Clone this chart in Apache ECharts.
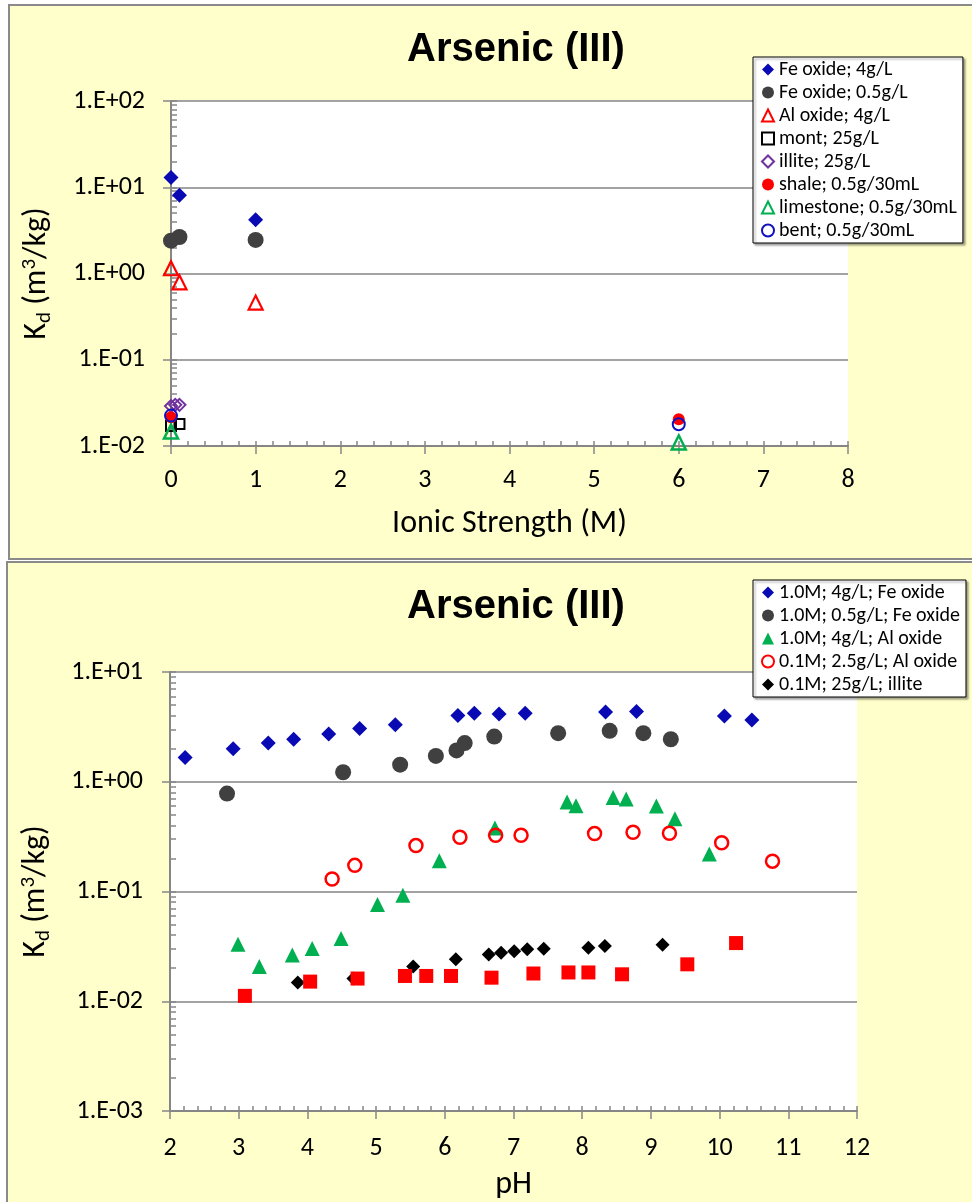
<!DOCTYPE html>
<html>
<head>
<meta charset="utf-8">
<script src="https://cdn.jsdelivr.net/npm/echarts@6/dist/echarts.min.js"></script>
<style>
  html, body { margin: 0; padding: 0; background: #fff; }
  #chart { width: 972px; height: 1202px; }
</style>
</head>
<body>
<div id="chart"></div>
<script>
// ---------- Upper panel: Kd of As(III) vs ionic strength ----------
const isFeOx4X = [0, 0.1, 1];
const isFeOx4Y = [13.0, 8.1, 4.2];
const isFeOx05X = [0, 0.1, 1];
const isFeOx05Y = [2.4, 2.65, 2.45];
const isAlOx4X = [0, 0.1, 1];
const isAlOx4Y = [1.15, 0.79, 0.46];
const isMont25X = [0, 0.1];
const isMont25Y = [0.017, 0.018];
const isIllite25X = [0, 0.05, 0.1];
const isIllite25Y = [0.029, 0.030, 0.030];
const isShaleX = [0, 6];
const isShaleY = [0.0215, 0.0204];
const isLimestoneX = [0, 6];
const isLimestoneY = [0.0147, 0.011];
const isBentX = [0, 6];
const isBentY = [0.0225, 0.0179];

const topXTicks = [0, 1, 2, 3, 4, 5, 6, 7, 8];
const topYTickValues = [0.01, 0.1, 1, 10, 100];
const topYTickLabels = ['1.E-02', '1.E-01', '1.E+00', '1.E+01', '1.E+02'];

// ---------- Lower panel: Kd of As(III) vs pH ----------
const phFeOx4X = [2.22, 2.92, 3.43, 3.80, 4.31, 4.76, 5.28, 6.19, 6.43, 6.79, 7.17, 8.34, 8.79, 10.07, 10.47];
const phFeOx4Y = [1.66, 2.0, 2.25, 2.44, 2.73, 3.05, 3.3, 4.01, 4.21, 4.15, 4.21, 4.31, 4.36, 3.98, 3.66];
const phFeOx05X = [2.83, 4.52, 5.35, 5.87, 6.17, 6.29, 6.72, 7.65, 8.40, 8.89, 9.29];
const phFeOx05Y = [0.78, 1.22, 1.43, 1.72, 1.93, 2.25, 2.58, 2.77, 2.91, 2.77, 2.44];
const phAlOx4X = [2.99, 3.30, 3.78, 4.07, 4.49, 5.02, 5.39, 5.92, 6.73, 7.78, 7.91, 8.45, 8.64, 9.08, 9.35, 9.85];
const phAlOx4Y = [0.033, 0.0207, 0.0264, 0.0303, 0.0374, 0.0762, 0.0925, 0.191, 0.379, 0.653, 0.605, 0.72, 0.695, 0.60, 0.461, 0.22];
const phAlOx25X = [4.36, 4.69, 5.58, 6.22, 6.74, 7.11, 8.18, 8.74, 9.27, 10.03, 10.77];
const phAlOx25Y = [0.130, 0.173, 0.262, 0.312, 0.325, 0.325, 0.337, 0.346, 0.34, 0.278, 0.189];
const phIllite25X = [3.86, 4.67, 5.54, 6.16, 6.64, 6.82, 7.01, 7.20, 7.44, 8.09, 8.33, 9.17];
const phIllite25Y = [0.0148, 0.0161, 0.0207, 0.0241, 0.0267, 0.0277, 0.0286, 0.0297, 0.0301, 0.0307, 0.0318, 0.0327];
const phSquareX = [3.09, 4.04, 4.73, 5.42, 5.73, 6.09, 6.68, 7.29, 7.80, 8.09, 8.58, 9.53, 10.24];
const phSquareY = [0.0112, 0.0151, 0.0161, 0.0170, 0.0170, 0.0170, 0.0164, 0.0179, 0.0183, 0.0183, 0.0176, 0.0217, 0.0339];

const botXTicks = [2, 3, 4, 5, 6, 7, 8, 9, 10, 11, 12];
const botYTickValues = [0.001, 0.01, 0.1, 1, 10];
const botYTickLabels = ['1.E-03', '1.E-02', '1.E-01', '1.E+00', '1.E+01'];

// ---------- helpers ----------
const pairs = (xs, ys) => xs.map((x, i) => [x, ys[i]]);

// intermediate log ticks (2..9 x 10^k) between the decade values
function logMinorTicks(decades) {
  const out = [];
  for (let i = 0; i < decades.length; i++) {
    const d = decades[i];
    out.push(d);
    if (i < decades.length - 1) {
      for (let m = 2; m <= 9; m++) out.push(+(m * d).toPrecision(6));
    }
  }
  return out;
}
function decadeLabel(values, labels) {
  return function (v) {
    for (let i = 0; i < values.length; i++) {
      if (Math.abs(Math.log10(v) - Math.log10(values[i])) < 1e-6) return labels[i];
    }
    return '';
  };
}

const FONT = 'Carlito, "Open Sans", sans-serif';
const AXIS_GRAY = '#868686';
const GRID_GRAY = '#a3a3a3';
const BLUE = '#0a0ab4';
const DARK = '#404040';
const RED = '#ff0000';
const GREEN = '#00b050';
const PURPLE = '#7030a0';
const HOLLOW = 'rgba(255,255,255,0)';

const yNameRich = {
  n: { fontFamily: FONT, fontSize: 32, color: '#000', lineHeight: 36 },
  sub: { fontFamily: FONT, fontSize: 21, color: '#000', lineHeight: 14, verticalAlign: 'bottom' },
  sup: { fontFamily: FONT, fontSize: 21, color: '#000', lineHeight: 14, verticalAlign: 'top' }
};
const yName = '{n|K}{sub|d}{n| (m}{sup|3}{n|/kg)}';

function mainXAxis(grid, min, max, name, gap, margin) {
  return {
    type: 'value', gridIndex: grid, min: min, max: max, interval: 1,
    name: name, nameLocation: 'middle', nameGap: gap,
    nameTextStyle: { fontFamily: FONT, fontSize: 32, color: '#000' },
    axisLine: { show: true, onZero: false, lineStyle: { color: AXIS_GRAY, width: 2 } },
    axisTick: { show: true, inside: false, length: 8, lineStyle: { color: AXIS_GRAY, width: 1.5 } },
    axisLabel: { show: true, margin: margin, fontFamily: FONT, fontSize: 26, color: '#000' },
    splitLine: { show: false }
  };
}
function minorXAxis(grid, min, max) {
  return {
    type: 'value', gridIndex: grid, min: min, max: max, interval: 0.2, position: 'bottom',
    axisLine: { show: false },
    axisTick: { show: true, inside: true, length: 5, lineStyle: { color: AXIS_GRAY, width: 1.5 } },
    axisLabel: { show: false },
    splitLine: { show: false }
  };
}
function mainYAxis(grid, values, labels, gap, margin) {
  return {
    type: 'log', logBase: 10, gridIndex: grid, min: values[0], max: values[values.length - 1],
    name: yName, nameLocation: 'middle', nameGap: gap,
    nameTextStyle: { rich: yNameRich },
    axisLine: { show: true, onZero: false, lineStyle: { color: AXIS_GRAY, width: 2 } },
    axisTick: { show: true, inside: false, length: 8, customValues: values, lineStyle: { color: AXIS_GRAY, width: 1.5 } },
    axisLabel: { show: true, margin: margin, fontFamily: FONT, fontSize: 26, color: '#000',
                 customValues: values, formatter: decadeLabel(values, labels) },
    splitLine: { show: true, lineStyle: { color: GRID_GRAY, width: 2 } }
  };
}
function minorYAxis(grid, values) {
  return {
    type: 'log', logBase: 10, gridIndex: grid, min: values[0], max: values[values.length - 1],
    position: 'left',
    axisLine: { show: false },
    axisTick: { show: true, inside: true, length: 6, customValues: logMinorTicks(values),
                lineStyle: { color: AXIS_GRAY, width: 1.5 } },
    axisLabel: { show: false },
    splitLine: { show: false }
  };
}

function scatter(name, xIdx, yIdx, xs, ys, symbol, size, itemStyle) {
  return {
    type: 'scatter', name: name, xAxisIndex: xIdx, yAxisIndex: yIdx,
    data: pairs(xs, ys), symbol: symbol, symbolSize: size,
    itemStyle: Object.assign({ opacity: 1 }, itemStyle),
    emphasis: { disabled: true }
  };
}

const topSeries = [
  scatter('Fe oxide; 4g/L', 0, 0, isFeOx4X, isFeOx4Y, 'diamond', 15, { color: BLUE }),
  scatter('Fe oxide; 0.5g/L', 0, 0, isFeOx05X, isFeOx05Y, 'circle', 16, { color: DARK }),
  scatter('Al oxide; 4g/L', 0, 0, isAlOx4X, isAlOx4Y, 'triangle', 14, { color: HOLLOW, borderColor: RED, borderWidth: 2.2 }),
  scatter('mont; 25g/L', 0, 0, isMont25X, isMont25Y, 'rect', 10, { color: HOLLOW, borderColor: '#000', borderWidth: 2 }),
  scatter('illite; 25g/L', 0, 0, isIllite25X, isIllite25Y, 'diamond', 12, { color: HOLLOW, borderColor: PURPLE, borderWidth: 2 }),
  scatter('shale; 0.5g/30mL', 0, 0, isShaleX, isShaleY, 'circle', 12, { color: RED }),
  scatter('limestone; 0.5g/30mL', 0, 0, isLimestoneX, isLimestoneY, 'triangle', 14, { color: HOLLOW, borderColor: GREEN, borderWidth: 2.5 }),
  scatter('bent; 0.5g/30mL', 0, 0, isBentX, isBentY, 'circle', 12, { color: HOLLOW, borderColor: '#1010c0', borderWidth: 2 })
];
const botSeries = [
  scatter('1.0M; 4g/L; Fe oxide', 2, 2, phFeOx4X, phFeOx4Y, 'diamond', 15, { color: BLUE }),
  scatter('1.0M; 0.5g/L; Fe oxide', 2, 2, phFeOx05X, phFeOx05Y, 'circle', 16, { color: DARK }),
  scatter('1.0M; 4g/L; Al oxide', 2, 2, phAlOx4X, phAlOx4Y, 'triangle', 15, { color: GREEN }),
  scatter('0.1M; 2.5g/L; Al oxide', 2, 2, phAlOx25X, phAlOx25Y, 'circle', 13, { color: HOLLOW, borderColor: RED, borderWidth: 2.5 }),
  scatter('0.1M; 25g/L; illite', 2, 2, phIllite25X, phIllite25Y, 'diamond', 14, { color: '#000' }),
  scatter('0.1M; 25g/L; red', 2, 2, phSquareX, phSquareY, 'rect', 14, { color: RED })
];

function legendBox(top, names) {
  return {
    show: true, orient: 'vertical', left: 753, top: top,
    data: names,
    itemWidth: 12, itemHeight: 12, itemGap: 2,
    padding: [2, 6, 2, 8],
    backgroundColor: '#fff', borderColor: '#000', borderWidth: 1,
    shadowColor: 'rgba(0,0,0,0.35)', shadowBlur: 2, shadowOffsetX: 2, shadowOffsetY: 2,
    textStyle: { fontFamily: FONT, fontSize: 20, color: '#000', lineHeight: 21 },
    selectedMode: false
  };
}

const chart = echarts.init(document.getElementById('chart'), null, { renderer: 'canvas' });
chart.setOption({
  animation: false,
  backgroundColor: '#fff',
  graphic: [
    { type: 'rect', z: -100, shape: { x: 9, y: 5, width: 990, height: 554 },
      style: { fill: '#ffffcc', stroke: '#8a8a8a', lineWidth: 2 } },
    { type: 'rect', z: -100, shape: { x: 7, y: 562, width: 990, height: 700 },
      style: { fill: '#ffffcc', stroke: '#8a8a8a', lineWidth: 2 } },
    { type: 'text', z: 10, x: 516, y: 50,
      style: { text: 'Arsenic (III)', font: 'bold 40px "Liberation Sans", Arial, sans-serif',
               fill: '#000', align: 'center', verticalAlign: 'middle' } },
    { type: 'text', z: 10, x: 516, y: 607,
      style: { text: 'Arsenic (III)', font: 'bold 40px "Liberation Sans", Arial, sans-serif',
               fill: '#000', align: 'center', verticalAlign: 'middle' } }
  ],
  grid: [
    { left: 171, right: 124, top: 101, height: 345, show: true, backgroundColor: '#fff', borderWidth: 0 },
    { left: 170, right: 115, top: 672, height: 440, show: true, backgroundColor: '#fff', borderWidth: 0 }
  ],
  xAxis: [
    mainXAxis(0, topXTicks[0], topXTicks[topXTicks.length - 1], 'Ionic Strength (M)', 62, 21),
    minorXAxis(0, topXTicks[0], topXTicks[topXTicks.length - 1]),
    mainXAxis(1, botXTicks[0], botXTicks[botXTicks.length - 1], 'pH', 58, 24),
    minorXAxis(1, botXTicks[0], botXTicks[botXTicks.length - 1])
  ],
  yAxis: [
    mainYAxis(0, topYTickValues, topYTickLabels, 116, 26),
    minorYAxis(0, topYTickValues),
    mainYAxis(1, botYTickValues, botYTickLabels, 116, 27),
    minorYAxis(1, botYTickValues)
  ],
  legend: [
    legendBox(57, topSeries.map(s => s.name)),
    legendBox(580, botSeries.slice(0, 5).map(s => s.name))
  ],
  series: topSeries.concat(botSeries)
});
</script>
</body>
</html>
